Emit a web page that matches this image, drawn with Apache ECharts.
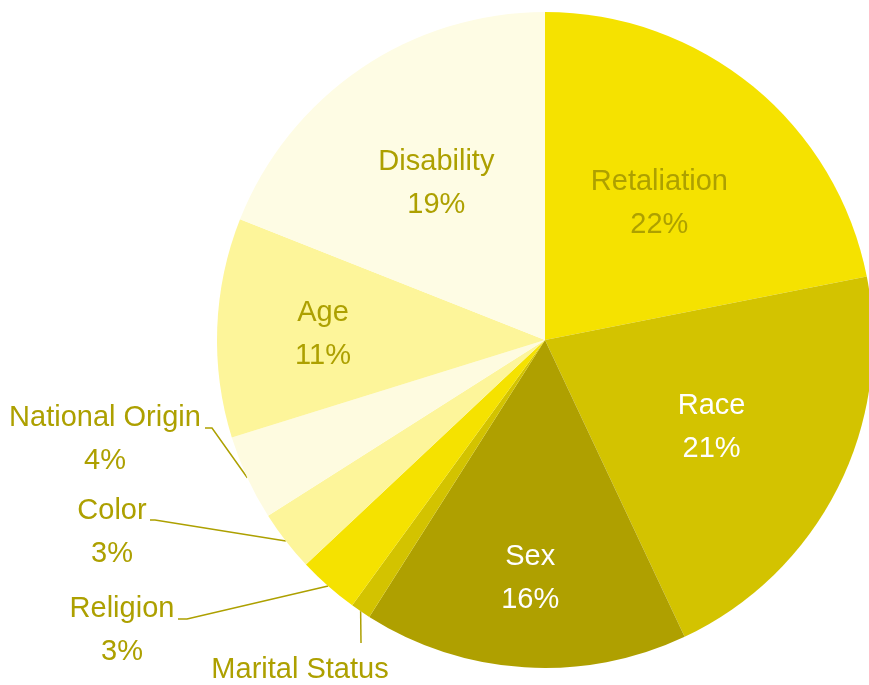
<!DOCTYPE html>
<html>
<head>
<meta charset="utf-8">
<script src="https://cdn.jsdelivr.net/npm/echarts@6/dist/echarts.min.js"></script>
<style>
  html, body { margin: 0; padding: 0; background: #fff; }
  #chart { width: 869px; height: 685px; }
</style>
</head>
<body>
<div id="chart"></div>
<script>
// data, clockwise from 12 o'clock
var categories = ['Retaliation', 'Race', 'Sex', 'Marital Status', 'Religion', 'Color', 'National Origin', 'Age', 'Disability'];
var shares = [21.9, 21.1, 16.0, 1.0, 3.0, 3.0, 4.2, 10.8, 19.0];

// styling
var sliceColors = ['#f5e200', '#d3c300', '#afa000', '#d3c300', '#f5e200', '#fdf59a', '#fefbe0', '#fdf59a', '#fefce4'];
var labelColors = ['#ada000', '#ffffff', '#ffffff', '#ada000', '#ada000', '#ada000', '#ada000', '#ada000', '#ada000'];
var outside = [false, false, false, true, true, true, true, false, false];
var insideRadiusFrac = [0.54, 0.56, 0.71, 0, 0, 0, 0, 0.668, 0.58];
var showPercent = [true, true, true, false, true, true, true, true, true];
// outer label centres and line bends
var outerLabels = {
  3: { x: 300, y: 670, line: [[361, 643], [361, 643]] },
  4: { x: 122, y: 630, line: [[187, 619], [178, 619]] },
  5: { x: 112, y: 532, line: [[155, 520], [150, 520]] },
  6: { x: 105, y: 439, line: [[212, 428], [205, 428]] }
};

var R = 328;
var total = shares.reduce(function (a, b) { return a + b; }, 0);
var cum = 0;
var pieData = categories.map(function (name, i) {
  var mid = (cum + shares[i] / 2) / total * Math.PI * 2;
  cum += shares[i];
  var item = {
    name: name,
    value: shares[i],
    itemStyle: { color: sliceColors[i] },
    label: { color: labelColors[i] }
  };
  if (outside[i]) {
    item.label.position = 'outside';
    item.labelLine = { show: true, lineStyle: { color: '#ada000', width: 1.5 } };
  } else {
    var d = (insideRadiusFrac[i] - 0.5) * R;
    item.label.position = 'inside';
    item.label.offset = [Math.sin(mid) * d, -Math.cos(mid) * d + 3];
  }
  return item;
});

var chart = echarts.init(document.getElementById('chart'));
chart.setOption({
  animation: false,
  series: [{
    type: 'pie',
    center: [545, 340],
    radius: R,
    startAngle: 90,
    clockwise: true,
    data: pieData,
    avoidLabelOverlap: false,
    label: {
      fontFamily: 'Liberation Sans',
      fontSize: 29,
      lineHeight: 43,
      formatter: function (p) {
        var s = '{n|' + p.name + '}';
        if (showPercent[p.dataIndex]) s += '\n{p|' + Math.round(p.percent) + '%}';
        return s;
      },
      rich: {
        n: { align: 'center', fontFamily: 'Liberation Sans', fontSize: 29, lineHeight: 43 },
        p: { align: 'center', fontFamily: 'Liberation Sans', fontSize: 29, lineHeight: 43 }
      }
    },
    labelLine: { length: 30, length2: 8 },
    labelLayout: function (params) {
      var o = outerLabels[params.dataIndex];
      if (!o) return {};
      var p0 = params.labelLinePoints ? params.labelLinePoints[0] : null;
      var pts = p0 ? [p0, o.line[0], o.line[1]] : undefined;
      return {
        x: o.x,
        y: o.y,
        align: 'center',
        verticalAlign: 'middle',
        labelLinePoints: pts
      };
    }
  }]
});
</script>
</body>
</html>
